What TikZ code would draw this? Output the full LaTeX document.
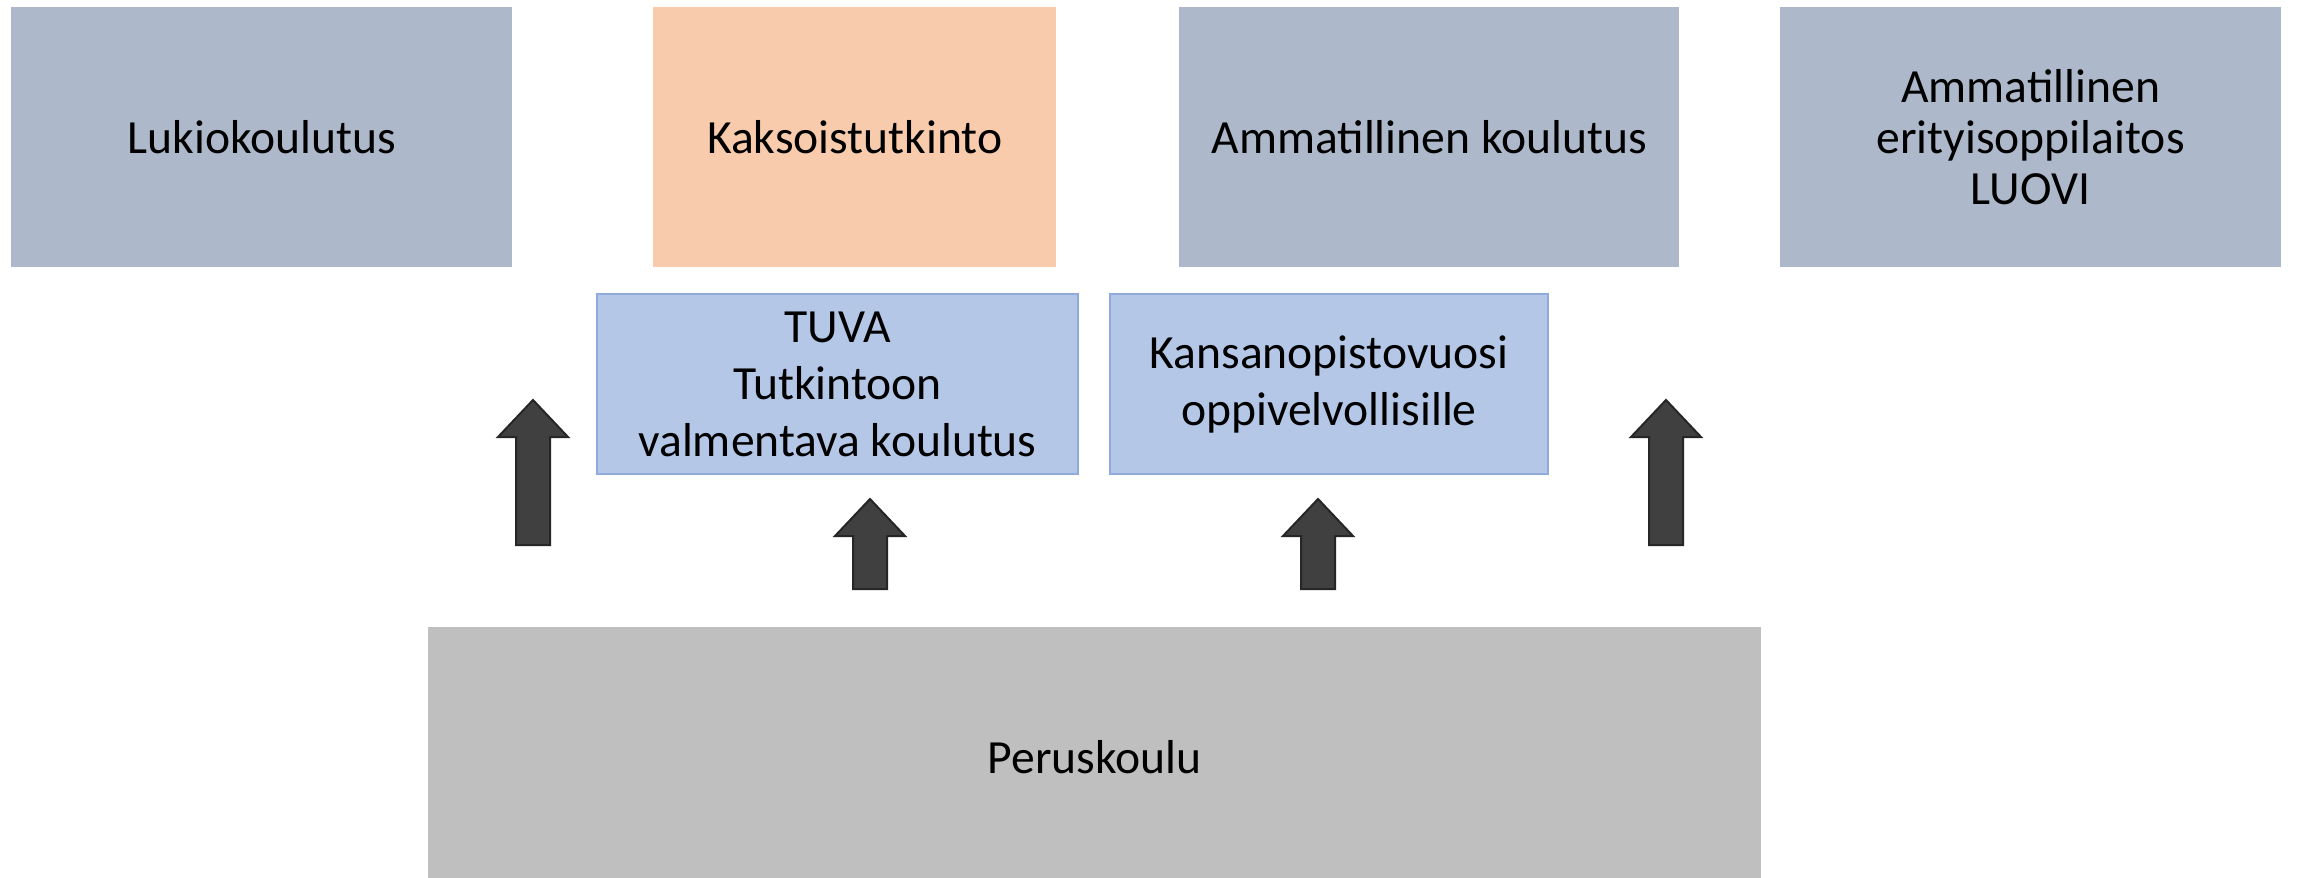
\documentclass[tikz,border=0pt]{standalone}
\usepackage{fontspec}
\setmainfont{Carlito}
\definecolor{slate}{HTML}{ADB9CA}
\definecolor{peach}{HTML}{F8CBAD}
\definecolor{paleblue}{HTML}{B4C7E7}
\definecolor{paleblueedge}{HTML}{8FAADC}
\definecolor{midgray}{HTML}{BFBFBF}
\definecolor{arrowfill}{HTML}{404040}
\definecolor{arrowedge}{HTML}{262626}
\newcommand\blockarrowup[4]{%
  % #1 centre x, #2 tip y, #3 head base y, #4 bottom y
  \draw[arrowshape] ({#1-17},#4) -- ({#1-17},#3) -- ({#1-35},#3) -- (#1,#2)
    -- ({#1+35},#3) -- ({#1+17},#3) -- ({#1+17},#4) -- cycle;}
\begin{document}
\begin{tikzpicture}[x=1bp,y=-1bp,
  box/.style={draw=none, inner sep=0pt, align=center, anchor=north west,
    font=\fontsize{47.6bp}{51bp}\selectfont},
  midbox/.style={box, draw=paleblueedge, line width=2bp, fill=paleblue,
    font=\fontsize{47.6bp}{57bp}\selectfont},
  arrowshape/.style={fill=arrowfill, draw=arrowedge, line width=2bp, line join=miter}]
\useasboundingbox (0,0) rectangle (2297,877);
\fill[white] (0,0) rectangle (2297,877);
\node[box, fill=slate, minimum width=501bp, minimum height=260bp] (lukio) at (11,7) {Lukiokoulutus};
\node[box, fill=peach, minimum width=403bp, minimum height=260bp] (kaksois) at (653,7) {Kaksoistutkinto};
\node[box, fill=slate, minimum width=500bp, minimum height=260bp] (ammat) at (1179,7) {Ammatillinen koulutus};
\node[box, fill=slate, minimum width=501bp, minimum height=260bp] (luovi) at (1780,7) {Ammatillinen\\erityisoppilaitos\\LUOVI};
\node[midbox, minimum width=481bp, minimum height=180bp] (tuva) at (596,293) {TUVA\\Tutkintoon\\valmentava koulutus};
\node[midbox, minimum width=438bp, minimum height=180bp] (kansan) at (1109,293) {Kansanopistovuosi\\oppivelvollisille};
\node[box, fill=midgray, minimum width=1333bp, minimum height=260bp] (perus) at (428,627) {Peruskoulu};
\blockarrowup{533}{400}{437}{545}
\blockarrowup{870}{499}{536}{589}
\blockarrowup{1318}{499}{536}{589}
\blockarrowup{1666}{400}{437}{545}
\end{tikzpicture}
\end{document}
